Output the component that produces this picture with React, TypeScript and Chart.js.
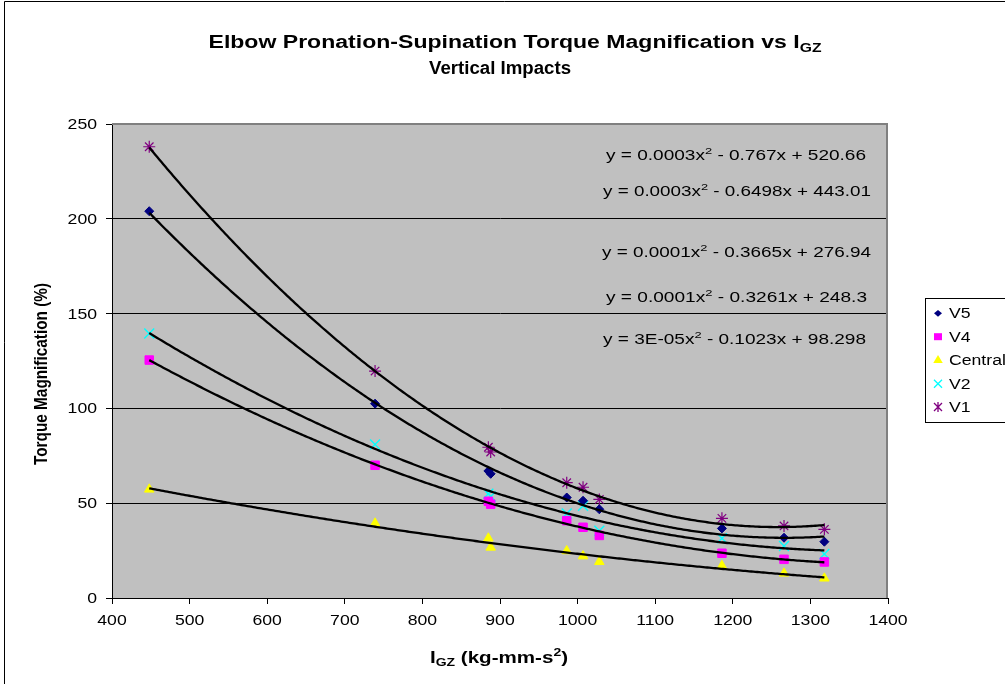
import React, { useEffect, useRef } from "react";
import { Chart, registerables } from "chart.js";

Chart.register(...registerables);

// ---------- data ----------
const X_VALUES = [448, 739, 885, 888, 986, 1007, 1028, 1186, 1266, 1318];
const V5_VALUES = [204, 102.5, 67, 65.5, 53, 51.3, 46.8, 36.7, 31.8, 29.7];
const V4_VALUES = [125.5, 70, 51, 49.5, 40.8, 37.3, 33, 23.6, 20.4, 19];
const CENTRAL_VALUES = [57.3, 39.4, 31.5, 26.7, 24.8, 22.1, 19.1, 17, 13, 10.4];
const V2_VALUES = [139.5, 81, 55, 53.5, 44.6, 48.6, 35.5, 31.5, 27.4, 23.2];
const V1_VALUES = [238, 119.7, 79.5, 77, 60.8, 58.4, 52, 42, 38, 36.2];
const SERIES_NAMES = ["V5", "V4", "Central", "V2", "V1"];
const X_TICKS = [400, 500, 600, 700, 800, 900, 1000, 1100, 1200, 1300, 1400];
const Y_TICKS = [0, 50, 100, 150, 200, 250];
const TITLE_LINES = ["Elbow Pronation-Supination Torque Magnification vs I_{GZ}", "Vertical Impacts"];
const X_TITLE = "I_{GZ} (kg-mm-s^{2})";
const Y_TITLE = "Torque Magnification (%)";
const EQUATIONS = [
  "y = 0.0003x^{2} - 0.767x + 520.66",
  "y = 0.0003x^{2} - 0.6498x + 443.01",
  "y = 0.0001x^{2} - 0.3665x + 276.94",
  "y = 0.0001x^{2} - 0.3261x + 248.3",
  "y = 3E-05x^{2} - 0.1023x + 98.298",
];

const SERIES_VALUES = [V5_VALUES, V4_VALUES, CENTRAL_VALUES, V2_VALUES, V1_VALUES];

// ---------- styles ----------
const STYLES = [
  { color: "#000080", point: "rectRot", radius: 4.5, bw: 1 },
  { color: "#FF00FF", point: "rect", radius: 6, bw: 1 },
  { color: "#FFFF00", point: "triangle", radius: 5.5, bw: 1 },
  { color: "#00FFFF", point: "crossRot", radius: 7, bw: 1.4 },
  { color: "#800080", point: "star", radius: 6, bw: 1.2 },
];
const FONT = '"Liberation Sans", Arial, sans-serif';
const SX = 1.26;

// ---------- helpers ----------
function quadFit(xs: number[], ys: number[]) {
  const x0 = 900, sc = 100;
  const S = [0, 0, 0, 0, 0];
  const T = [0, 0, 0];
  xs.forEach((x, i) => {
    const u = (x - x0) / sc;
    let p = 1;
    for (let k = 0; k < 5; k++) {
      S[k] += p;
      if (k < 3) T[k] += p * ys[i];
      p *= u;
    }
  });
  const M = [
    [S[0], S[1], S[2], T[0]],
    [S[1], S[2], S[3], T[1]],
    [S[2], S[3], S[4], T[2]],
  ];
  for (let c = 0; c < 3; c++) {
    let piv = c;
    for (let r = c + 1; r < 3; r++) if (Math.abs(M[r][c]) > Math.abs(M[piv][c])) piv = r;
    [M[c], M[piv]] = [M[piv], M[c]];
    for (let r = 0; r < 3; r++) {
      if (r === c) continue;
      const f = M[r][c] / M[c][c];
      for (let k = c; k < 4; k++) M[r][k] -= f * M[c][k];
    }
  }
  const c0 = M[0][3] / M[0][0], c1 = M[1][3] / M[1][1], c2 = M[2][3] / M[2][2];
  return (x: number) => {
    const u = (x - x0) / sc;
    return c0 + c1 * u + c2 * u * u;
  };
}

type Run = { t: string; m: number };
function parseRuns(s: string): Run[] {
  const out: Run[] = [];
  const re = /([_^])\{([^}]*)\}/g;
  let last = 0;
  let m: RegExpExecArray | null;
  while ((m = re.exec(s))) {
    if (m.index > last) out.push({ t: s.slice(last, m.index), m: 0 });
    out.push({ t: m[2], m: m[1] === "^" ? 1 : -1 });
    last = re.lastIndex;
  }
  if (last < s.length) out.push({ t: s.slice(last), m: 0 });
  return out;
}

function drawRich(
  ctx: CanvasRenderingContext2D,
  s: string,
  x: number,
  y: number,
  o: { size: number; bold?: boolean; align?: string; sx?: number; width?: number; rotate?: boolean }
) {
  const runs = parseRuns(s);
  const fontOf = (sz: number) => `${o.bold ? "bold " : ""}${sz}px ${FONT}`;
  const widths = runs.map((r) => {
    ctx.font = fontOf(r.m ? o.size * 0.68 : o.size);
    return ctx.measureText(r.t).width;
  });
  const W = widths.reduce((a, b) => a + b, 0);
  const along = o.width ? o.width / W : o.sx ?? SX;
  ctx.save();
  ctx.translate(x, y);
  if (o.rotate) {
    ctx.scale(SX, 1);
    ctx.rotate(-Math.PI / 2);
  }
  ctx.scale(along, 1);
  ctx.fillStyle = "#000";
  ctx.textBaseline = "alphabetic";
  ctx.textAlign = "left";
  let cx = o.align === "left" ? 0 : o.align === "right" ? -W : -W / 2;
  const base = o.size * 0.36;
  runs.forEach((r, i) => {
    ctx.font = fontOf(r.m ? o.size * 0.68 : o.size);
    const dy = r.m === 1 ? -o.size * 0.4 : r.m === -1 ? o.size * 0.22 : 0;
    ctx.fillText(r.t, cx, base + dy);
    cx += widths[i];
  });
  ctx.restore();
}

function drawMarker(ctx: CanvasRenderingContext2D, style: string, x: number, y: number, color: string) {
  ctx.save();
  ctx.fillStyle = color;
  ctx.strokeStyle = color;
  ctx.lineWidth = 1.3;
  ctx.beginPath();
  if (style === "rectRot") {
    const r = 4;
    ctx.moveTo(x - r, y);
    ctx.lineTo(x, y - r * 0.85);
    ctx.lineTo(x + r, y);
    ctx.lineTo(x, y + r * 0.85);
    ctx.closePath();
    ctx.fill();
  } else if (style === "rect") {
    ctx.fillRect(x - 4, y - 3.5, 8, 7);
  } else if (style === "triangle") {
    const r = 5;
    ctx.moveTo(x, y - r);
    ctx.lineTo(x + r * 0.95, y + r * 0.6);
    ctx.lineTo(x - r * 0.95, y + r * 0.6);
    ctx.closePath();
    ctx.fill();
  } else if (style === "crossRot") {
    const r = 4;
    ctx.moveTo(x - r, y - r);
    ctx.lineTo(x + r, y + r);
    ctx.moveTo(x + r, y - r);
    ctx.lineTo(x - r, y + r);
    ctx.stroke();
  } else {
    const r = 4;
    ctx.moveTo(x - r, y - r);
    ctx.lineTo(x + r, y + r);
    ctx.moveTo(x + r, y - r);
    ctx.lineTo(x - r, y + r);
    ctx.moveTo(x, y - r - 1);
    ctx.lineTo(x, y + r + 1);
    ctx.stroke();
  }
  ctx.restore();
}

const decor = {
  id: "decor",
  beforeDraw(chart: any) {
    const { ctx, chartArea: a, width, height } = chart;
    ctx.save();
    ctx.fillStyle = "#fff";
    ctx.fillRect(0, 0, width, height);
    ctx.fillStyle = "#C0C0C0";
    ctx.fillRect(a.left, a.top, a.right - a.left, a.bottom - a.top);
    ctx.strokeStyle = "#000";
    ctx.lineWidth = 1;
    ctx.beginPath();
    ctx.moveTo(4.5, height);
    ctx.lineTo(4.5, 1.5);
    ctx.lineTo(width, 1.5);
    ctx.stroke();
    ctx.restore();
  },
  beforeDatasetsDraw(chart: any) {
    const { ctx, chartArea: a } = chart;
    ctx.save();
    ctx.strokeStyle = "#808080";
    ctx.lineWidth = 2;
    ctx.beginPath();
    ctx.moveTo(a.left, a.top);
    ctx.lineTo(a.right - 1, a.top);
    ctx.lineTo(a.right - 1, a.bottom);
    ctx.stroke();
    ctx.restore();
  },
  afterDatasetsDraw(chart: any) {
    const { ctx, chartArea: a } = chart;
    const xs = chart.scales.x, ys = chart.scales.y;
    ctx.save();
    ctx.beginPath();
    ctx.rect(a.left, a.top, a.right - a.left, a.bottom - a.top);
    ctx.clip();
    ctx.strokeStyle = "#000";
    ctx.lineWidth = 2.3;
    ctx.lineJoin = "round";
    SERIES_VALUES.forEach((vals) => {
      const f = quadFit(X_VALUES, vals);
      const p0 = xs.getPixelForValue(Math.min(...X_VALUES));
      const p1 = xs.getPixelForValue(Math.max(...X_VALUES));
      ctx.beginPath();
      for (let p = p0; p < p1 + 2; p += 2) {
        const pp = Math.min(p, p1);
        const py = ys.getPixelForValue(f(xs.getValueForPixel(pp)));
        if (p === p0) ctx.moveTo(pp, py);
        else ctx.lineTo(pp, py);
      }
      ctx.stroke();
    });
    ctx.restore();
  },
  afterDraw(chart: any) {
    const { ctx } = chart;
    const xs = chart.scales.x, ys = chart.scales.y;
    // tick labels
    X_TICKS.forEach((v) => drawRich(ctx, String(v), xs.getPixelForValue(v), 620, { size: 14 }));
    Y_TICKS.forEach((v) => drawRich(ctx, String(v), 97, ys.getPixelForValue(v), { size: 14, align: "right" }));
    // titles
    drawRich(ctx, TITLE_LINES[0], 515, 42, { size: 18, bold: true, width: 613 });
    drawRich(ctx, TITLE_LINES[1], 500, 68, { size: 18, bold: true, width: 142 });
    drawRich(ctx, X_TITLE, 499, 657, { size: 16, bold: true, width: 138 });
    drawRich(ctx, Y_TITLE, 40, 374, { size: 15, bold: true, width: 182, rotate: true });
    // equations
    const eqX = [736, 737, 736.5, 736.5, 734.5];
    const eqY = [155, 191, 252, 297, 339];
    const eqW = [260, 268, 269, 261, 263];
    EQUATIONS.forEach((e, i) => drawRich(ctx, e, eqX[i], eqY[i], { size: 14, width: eqW[i] }));
    // legend
    ctx.save();
    ctx.fillStyle = "#fff";
    ctx.fillRect(925.5, 298.5, 200, 124);
    ctx.strokeStyle = "#000";
    ctx.lineWidth = 1;
    ctx.strokeRect(925.5, 298.5, 200, 124);
    ctx.restore();
    const ly = [313.3, 336.7, 360, 383.7, 407];
    SERIES_NAMES.forEach((n, i) => {
      drawMarker(ctx, STYLES[i].point, 938, ly[i], STYLES[i].color);
      drawRich(ctx, n, 949, ly[i], { size: 14, align: "left" });
    });
  },
};

export default function App() {
  const ref = useRef<HTMLCanvasElement | null>(null);
  useEffect(() => {
    const canvas = ref.current;
    if (!canvas) return;
    const datasets = SERIES_NAMES.map((name, i) => ({
      label: name,
      data: X_VALUES.map((x, j) => ({ x, y: SERIES_VALUES[i][j] })),
      showLine: false,
      pointStyle: STYLES[i].point as any,
      pointRadius: STYLES[i].radius,
      pointHoverRadius: STYLES[i].radius,
      backgroundColor: STYLES[i].color,
      borderColor: STYLES[i].color,
      pointBorderWidth: STYLES[i].bw,
    }));
    const chart = new Chart(canvas, {
      type: "scatter",
      data: { datasets },
      options: {
        responsive: false,
        animation: false,
        devicePixelRatio: 1,
        layout: { padding: { left: 0, top: 124, right: 117, bottom: 0 } },
        plugins: {
          legend: { display: false },
          title: { display: false },
          tooltip: { enabled: false },
        },
        scales: {
          x: {
            type: "linear",
            position: "bottom",
            min: 400,
            max: 1400,
            afterBuildTicks: (s: any) => {
              s.ticks = X_TICKS.map((v) => ({ value: v }));
            },
            afterFit: (s: any) => {
              s.height = 86;
            },
            ticks: { display: false },
            grid: { display: true, drawOnChartArea: false, drawTicks: true, tickLength: 6, color: "#000", lineWidth: 1 },
            border: { display: true, color: "#000", width: 1 },
          },
          y: {
            type: "linear",
            min: 0,
            max: 250,
            afterBuildTicks: (s: any) => {
              s.ticks = Y_TICKS.map((v) => ({ value: v }));
            },
            afterFit: (s: any) => {
              s.width = 112;
            },
            ticks: { display: false },
            grid: { display: true, drawOnChartArea: true, drawTicks: true, tickLength: 6, color: "#000", lineWidth: 1 },
            border: { display: true, color: "#000", width: 1 },
          },
        },
      } as any,
      plugins: [decor],
    });
    return () => chart.destroy();
  }, []);
  return (
    <div style={{ position: "fixed", left: 0, top: 0, width: 1005, height: 684, background: "#fff" }}>
      <canvas ref={ref} width={1005} height={684} style={{ width: 1005, height: 684, display: "block" }} />
    </div>
  );
}
